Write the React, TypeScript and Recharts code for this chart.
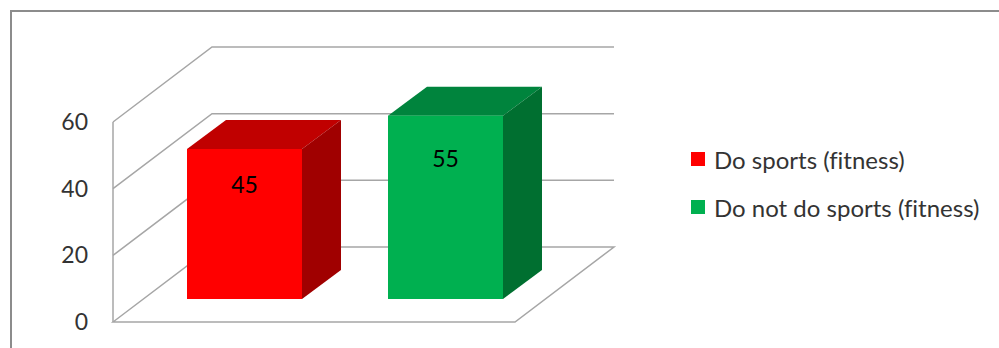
import React from "react";
import { BarChart, Bar, XAxis, YAxis, CartesianGrid, Cell, LabelList } from "recharts";

const categories = ["Do sports (fitness)", "Do not do sports (fitness)"];
const values = [45, 55];
const frontColors = ["#ff0000", "#00b050"];
const topColors = ["#c00000", "#00843d"];
const sideColors = ["#a00000", "#006f30"];
const yTicks = [0, 20, 40, 60];

// 3d offsets: wall depth, bar front offset, bar depth
const DX = 99;
const DY = 75;
const FX = 31;
const FY = 23;
const BX = 39;
const BY = 29;

const GRID = "#a6a6a6";
const FONT = "Lato, 'Open Sans', sans-serif";

const data = categories.map((name, i) => ({ name, value: values[i] }));

function gridLine(props: any) {
  const { x1, x2, y1, index } = props;
  const y = y1;
  if (Math.abs(y - 322) < 1) {
    // floor
    return (
      <polygon
        key={"g" + index}
        points={`${x1},${y} ${x1 + DX},${y - DY} ${x2 + DX},${y - DY} ${x2},${y}`}
        fill="none"
        stroke={GRID}
        strokeWidth={1.5}
      />
    );
  }
  return (
    <polyline
      key={"g" + index}
      points={`${x1},${y} ${x1 + DX},${y - DY} ${x2 + DX},${y - DY}`}
      fill="none"
      stroke={GRID}
      strokeWidth={1.5}
    />
  );
}

function Box(props: any) {
  const { x, y, width, height, index } = props;
  const fx = x + FX;
  const fy = y - FY;
  const w = width;
  const h = height;
  return (
    <g>
      <polygon
        points={`${fx},${fy} ${fx + BX},${fy - BY} ${fx + w + BX},${fy - BY} ${fx + w},${fy}`}
        fill={topColors[index]}
      />
      <polygon
        points={`${fx + w},${fy} ${fx + w + BX},${fy - BY} ${fx + w + BX},${fy + h - BY} ${fx + w},${fy + h}`}
        fill={sideColors[index]}
      />
      <rect x={fx} y={fy} width={w} height={h} fill={frontColors[index]} />
    </g>
  );
}

function BarLabel(props: any) {
  const { x, y, width, height, value } = props;
  return (
    <text
      x={x + FX + width / 2}
      y={y - FY + height * 0.23}
      textAnchor="middle"
      dominantBaseline="central"
      fontFamily={FONT}
      fontSize={23}
      fill="#000"
    >
      {value}
    </text>
  );
}

export default function App() {
  return (
    <div style={{ position: "absolute", left: 0, top: 0, width: 999, height: 348, background: "#fff", overflow: "hidden" }}>
      <div
        style={{
          position: "absolute",
          left: 10,
          top: 10,
          width: 1000,
          height: 400,
          borderTop: "2px solid #8c8c8c",
          borderLeft: "2px solid #8c8c8c",
        }}
      />
      <div style={{ position: "absolute", left: 0, top: 0 }}>
        <BarChart
          width={999}
          height={348}
          data={data}
          margin={{ top: 122, right: 484, left: 53, bottom: 26 }}
          barSize={115}
        >
          <CartesianGrid horizontal={gridLine} vertical={false} />
          <XAxis dataKey="name" hide />
          <YAxis
            domain={[0, 60]}
            ticks={yTicks}
            width={60}
            tickLine={false}
            tickSize={0}
            tickMargin={25}
            axisLine={{ stroke: GRID, strokeWidth: 1.5 }}
            tick={{ fontFamily: FONT, fontSize: 23, fill: "#333" }}
          />
          <Bar dataKey="value" shape={<Box />} isAnimationActive={false}>
            {data.map((d, i) => (
              <Cell key={d.name} fill={frontColors[i]} />
            ))}
            <LabelList dataKey="value" content={<BarLabel />} />
          </Bar>
        </BarChart>
      </div>
      <div style={{ position: "absolute", left: 691, top: 135, fontFamily: FONT, fontSize: 24, color: "#333", fontVariantLigatures: "none" }}>
        {categories.map((c, i) => (
          <div key={c} style={{ display: "flex", alignItems: "center", height: 48 }}>
            <span style={{ width: 14, height: 14, background: frontColors[i], marginRight: 9, display: "inline-block" }} />
            <span>{c}</span>
          </div>
        ))}
      </div>
    </div>
  );
}
